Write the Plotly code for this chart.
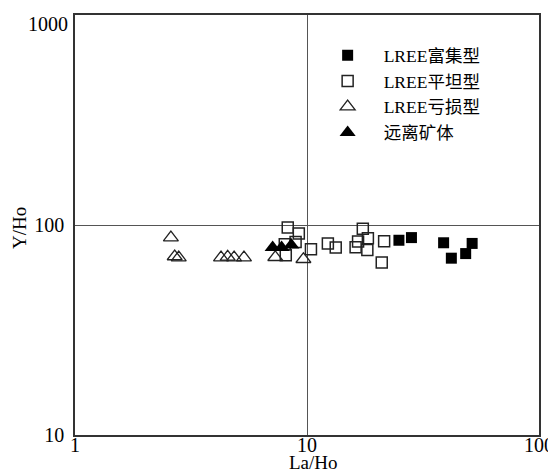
import plotly.graph_objects as go

# LREE富集型 (filled squares)
rich_x = [24.9, 28.2, 38.8, 41.9, 48.3, 51.5]
rich_y = [84.6, 87.1, 82.3, 69.5, 73.1, 81.7]

# LREE平坦型 (open squares)
flat_x = [8.26, 9.22, 8.93, 8.02, 8.10, 10.4, 12.3, 13.3, 17.4, 18.3, 16.6, 16.2, 18.2, 21.5, 21.0]
flat_y = [97.2, 91.0, 83.0, 80.9, 71.8, 76.6, 81.7, 78.1, 96.1, 86.5, 83.4, 78.3, 76.0, 83.7, 66.3]

# LREE亏损型 (open triangles)
dep_x = [2.59, 2.69, 2.80, 4.26, 4.55, 4.85, 5.35, 7.30, 9.65]
dep_y = [87.1, 70.8, 70.0, 70.0, 70.5, 70.0, 70.0, 70.2, 68.7]

# 远离矿体 (filled triangles)
far_x = [7.11, 7.77, 8.56]
far_y = [78.1, 78.1, 80.4]

names = ["LREE富集型", "LREE平坦型", "LREE亏损型", "远离矿体"]
x_ticks = [1, 10, 100]
y_ticks = [10, 100, 1000]
x_title = "La/Ho"
y_title = "Y/Ho"

SERIF = "Liberation Serif"
CJK = "Noto Sans CJK SC"


def mixed(label):
    # render Latin with serif and CJK with the CJK font
    out, buf, cjk = "", "", None
    for ch in label:
        is_cjk = ord(ch) > 0x2E80
        if cjk is None or is_cjk == cjk:
            buf += ch
        else:
            out += (f"<span style='font-family:{CJK}'>{buf}</span>" if cjk else buf)
            buf = ch
        cjk = is_cjk
    out += (f"<span style='font-family:{CJK}'>{buf}</span>" if cjk else buf)
    return out


fig = go.Figure()
fig.add_trace(go.Scatter(x=flat_x, y=flat_y, mode="markers", name=mixed(names[1]),
                         marker=dict(symbol="square-open", size=11, color="#222",
                                     line=dict(width=1.5, color="#222")), legendrank=2))
fig.add_trace(go.Scatter(x=dep_x, y=dep_y, mode="markers", name=mixed(names[2]),
                         marker=dict(symbol="triangle-up-open", size=13, color="#222",
                                     line=dict(width=1.3, color="#222")), legendrank=3))
fig.add_trace(go.Scatter(x=far_x, y=far_y, mode="markers", name=mixed(names[3]),
                         marker=dict(symbol="triangle-up", size=14, color="black",
                                     line=dict(width=0)), legendrank=4))
fig.add_trace(go.Scatter(x=rich_x, y=rich_y, mode="markers", name=mixed(names[0]),
                         marker=dict(symbol="square", size=11, color="black",
                                     line=dict(width=0)), legendrank=1))

# the top y tick label sits a little lower (kept inside the page), as in the source
y_ticktext = [str(v) for v in y_ticks[:-1]] + [""]

fig.update_layout(
    width=548, height=464,
    margin=dict(l=67, r=17, t=7, b=37),
    paper_bgcolor="white", plot_bgcolor="white",
    font=dict(family=SERIF, size=19, color="black"),
    showlegend=True,
    legend=dict(x=0.51, y=0.947, xanchor="left", yanchor="top",
                bgcolor="rgba(0,0,0,0)", borderwidth=0,
                font=dict(family=SERIF, size=17.5, color="black"),
                itemwidth=62, tracegroupgap=0),
    annotations=[
        dict(text=x_title, xref="paper", yref="paper", x=0.515, y=-0.066,
             xanchor="center", yanchor="middle", showarrow=False,
             font=dict(family=SERIF, size=19, color="black")),
        dict(text=y_title, xref="paper", yref="paper", x=-0.1185, y=0.493,
             xanchor="center", yanchor="middle", showarrow=False, textangle=-90,
             font=dict(family=SERIF, size=19, color="black")),
        dict(text=str(y_ticks[-1]), xref="paper", yref="paper", x=0, y=1,
             xanchor="right", yanchor="top", xshift=-5, yshift=4, showarrow=False,
             font=dict(family=SERIF, size=20, color="black")),
    ],
)
fig.update_xaxes(type="log", range=[0, 2], tickvals=x_ticks, ticktext=[str(v) for v in x_ticks],
                 showgrid=True, gridcolor="#555", gridwidth=1,
                 showline=True, linecolor="#333", linewidth=1.5, mirror=True,
                 ticks="", zeroline=False, tickfont=dict(size=20), automargin=False,
                 ticklabelstandoff=-9, ticklabeloverflow="allow")
fig.update_yaxes(type="log", range=[1, 3], tickvals=y_ticks, ticktext=y_ticktext,
                 showgrid=True, gridcolor="#555", gridwidth=1,
                 showline=True, linecolor="#333", linewidth=1.5, mirror=True,
                 ticks="", zeroline=False, tickfont=dict(size=20), ticklabelstandoff=5,
                 automargin=False, ticklabeloverflow="allow")

fig.write_html("out.html")
